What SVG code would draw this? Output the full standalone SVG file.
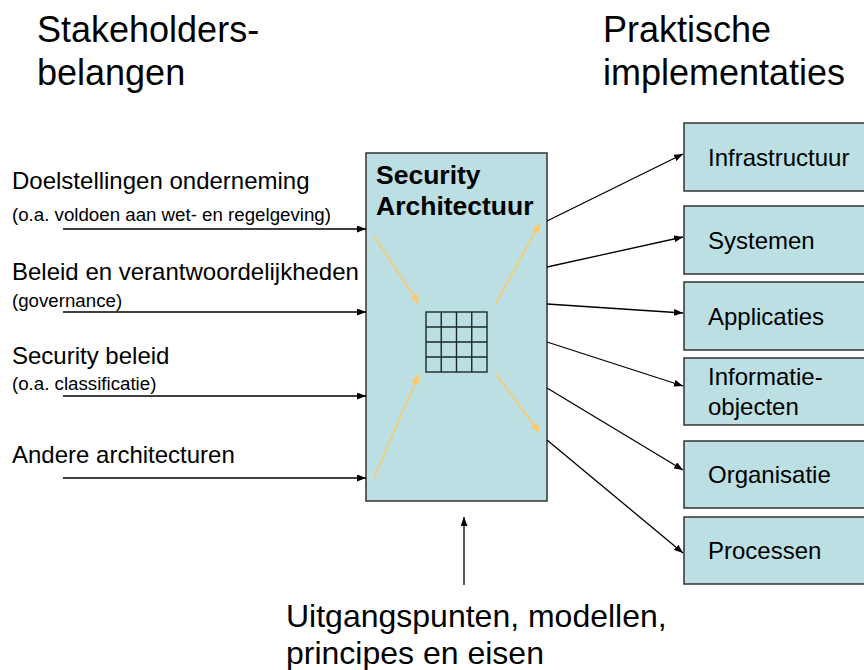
<svg xmlns="http://www.w3.org/2000/svg" width="864" height="670" viewBox="0 0 864 670">
<style>
text{font-family:"Liberation Sans",Arial,Helvetica,sans-serif;fill:#000}
.hd{font-size:36px}
.lb{font-size:24px}
.sb{font-size:18.7px}
.ttl{font-size:26.5px;font-weight:bold}
.bt{font-size:32px}
.box{fill:#BBDFE2;stroke:#333;stroke-width:1.5}
.c{stroke:#000;stroke-width:1.3;fill:none;marker-end:url(#ah)}
.o{stroke:#FFC864;stroke-width:1.5;fill:none;marker-end:url(#oh)}
.g{stroke:#1a2a2a;stroke-width:1.4;fill:none}
</style>
<defs>
<marker id="ah" markerUnits="userSpaceOnUse" markerWidth="9" markerHeight="7" refX="9" refY="3.5" orient="auto"><path d="M0,0 L9,3.5 L0,7 z" fill="#000"/></marker>
<marker id="oh" markerUnits="userSpaceOnUse" markerWidth="10" markerHeight="8" refX="10" refY="4" orient="auto"><path d="M0,0 L10,4 L0,8 z" fill="#FFC864"/></marker>
</defs>
<rect width="864" height="670" fill="#fff"/>
<g id="headers">
<text class="hd" x="37" y="42">Stakeholders-</text>
<text class="hd" x="37" y="85">belangen</text>
<text class="hd" x="603" y="42">Praktische</text>
<text class="hd" x="603" y="85">implementaties</text>
</g>
<g id="inputs">
<text class="lb" x="12" y="189">Doelstellingen onderneming</text>
<text class="sb" x="12" y="221">(o.a. voldoen aan wet- en regelgeving)</text>
<text class="lb" x="12" y="280">Beleid en verantwoordelijkheden</text>
<text class="sb" x="12" y="307">(governance)</text>
<text class="lb" x="12" y="364">Security beleid</text>
<text class="sb" x="12" y="390">(o.a. classificatie)</text>
<text class="lb" x="12" y="463">Andere architecturen</text>
</g>
<g id="security-architectuur">
<rect class="box" x="366" y="153" width="181" height="348"/>
<text class="ttl" x="376" y="184">Security</text>
<text class="ttl" x="376" y="215">Architectuur</text>
<g id="grid">
<rect class="g" x="426" y="312" width="61" height="60"/>
<path class="g" d="M441.25,312V372M456.5,312V372M471.75,312V372M426,327H487M426,342H487M426,357H487"/>
</g>
</g>
<g id="infrastructuur"><rect class="box" x="684" y="123" width="190" height="68"/><text class="lb" x="708" y="166">Infrastructuur</text></g>
<g id="systemen"><rect class="box" x="684" y="206" width="190" height="68"/><text class="lb" x="708" y="249">Systemen</text></g>
<g id="applicaties"><rect class="box" x="684" y="282" width="190" height="68"/><text class="lb" x="708" y="325">Applicaties</text></g>
<g id="informatieobjecten"><rect class="box" x="684" y="358" width="190" height="67"/><text class="lb" x="708" y="385">Informatie-</text><text class="lb" x="708" y="415">objecten</text></g>
<g id="organisatie"><rect class="box" x="684" y="441" width="190" height="67"/><text class="lb" x="708" y="483">Organisatie</text></g>
<g id="processen"><rect class="box" x="684" y="517" width="190" height="67"/><text class="lb" x="708" y="559">Processen</text></g>
<g id="bottom-label">
<text class="bt" x="286" y="627">Uitgangspunten, modellen,</text>
<text class="bt" x="286" y="664">principes en eisen</text>
</g>
<g id="connectors">
<line class="c" x1="63" y1="229" x2="366" y2="229"/>
<line class="c" x1="63" y1="312" x2="366" y2="312"/>
<line class="c" x1="63" y1="396" x2="366" y2="396"/>
<line class="c" x1="63" y1="478" x2="366" y2="478"/>
<line class="c" x1="547" y1="221" x2="683" y2="154"/>
<line class="c" x1="547" y1="267" x2="683" y2="237"/>
<line class="c" x1="547" y1="304" x2="683" y2="313"/>
<line class="c" x1="547" y1="342" x2="683" y2="386"/>
<line class="c" x1="547" y1="388" x2="683" y2="470"/>
<line class="c" x1="547" y1="440" x2="683" y2="553"/>
<line class="c" x1="464" y1="585" x2="464" y2="517"/>
<line class="o" x1="374" y1="236" x2="419" y2="304"/>
<line class="o" x1="374" y1="478" x2="419" y2="374"/>
<line class="o" x1="495" y1="305" x2="540" y2="223"/>
<line class="o" x1="495" y1="373" x2="540" y2="433"/>
</g>
</svg>
